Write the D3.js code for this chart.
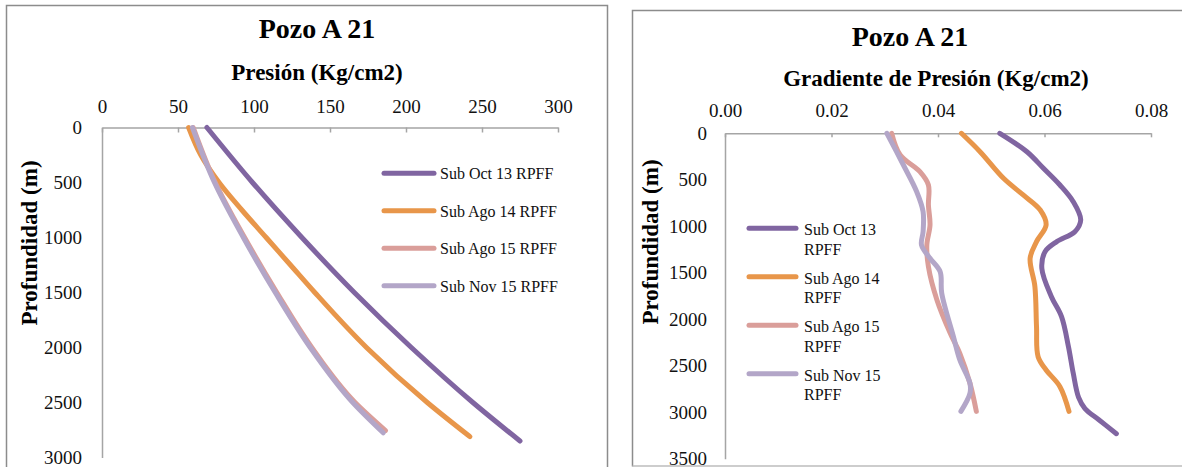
<!DOCTYPE html>
<html><head><meta charset="utf-8">
<script src="https://cdn.jsdelivr.net/npm/d3@7"></script>
<style>
html,body{margin:0;padding:0;background:#fff;}
svg{display:block;font-family:"Liberation Serif",serif;}
</style></head>
<body>
<svg id="chart" width="1182" height="467"></svg>
<script>
// ---------- DATA ----------
const seriesNames = ["Sub Oct 13 RPFF","Sub Ago 14 RPFF","Sub Ago 15 RPFF","Sub Nov 15 RPFF"];
const legendLines2 = [["Sub Oct 13","RPFF"],["Sub Ago 14","RPFF"],["Sub Ago 15","RPFF"],["Sub Nov 15","RPFF"]];
const colors = ["#8065A1","#E8964A","#DA9E9A","#B3A6C8"];

const pressureTicks = [0,50,100,150,200,250,300];
const depthTicksLeft = [0,500,1000,1500,2000,2500,3000];
const gradientTicks = [0,0.02,0.04,0.06,0.08];
const depthTicksRight = [0,500,1000,1500,2000,2500,3000,3500];

// Pressure (Kg/cm2) vs depth (m): [depth, pressure]
const presOct13 = [[0,69],[500,99],[1000,131.5],[1500,166],[2000,203.5],[2500,244],[2850,275]];
const presAgo14 = [[0,57],[250,65],[500,77],[750,92],[1000,108],[1250,124],[1500,140],[2000,174],[2500,214],[2810,242]];
const presAgo15 = [[0,60],[500,74.5],[1000,93.8],[1500,115],[2000,138],[2500,166.5],[2755,186.5]];
const presNov15 = [[0,59.5],[500,74],[1000,93],[1500,114],[2000,137],[2500,165],[2775,185]];

// Pressure gradient vs depth: [depth, gradient]
const gradOct13 = [[0,0.0516],[198,0.0567],[376,0.0598],[556,0.0629],[735,0.0654],[932,0.0668],[1058,0.0657],[1165,0.0623],[1273,0.0601],[1452,0.0595],[1757,0.0613],[1972,0.0632],[2295,0.0645],[2581,0.0654],[2840,0.0664],[2960,0.0676],[3080,0.0702],[3230,0.0735]];
const gradAgo14 = [[0,0.0444],[198,0.0479],[484,0.0523],[663,0.0560],[825,0.0592],[986,0.0603],[1165,0.0585],[1344,0.0573],[1649,0.0582],[2080,0.0585],[2402,0.0588],[2545,0.0603],[2724,0.0629],[2990,0.0646]];
const gradAgo15 = [[0,0.0313],[233,0.0329],[413,0.0366],[556,0.0382],[771,0.0382],[986,0.0385],[1201,0.0379],[1434,0.0382],[1792,0.0398],[2151,0.0423],[2366,0.0441],[2688,0.0460],[2990,0.0472]];
const gradNov15 = [[0,0.0304],[341,0.0335],[628,0.0360],[843,0.0372],[1058,0.0372],[1201,0.0369],[1344,0.0385],[1488,0.0404],[1720,0.0407],[2187,0.0429],[2437,0.0441],[2688,0.0460],[2796,0.0460],[2990,0.0443]];

const pressureSeries = [presOct13,presAgo14,presAgo15,presNov15];
const gradientSeries = [gradOct13,gradAgo14,gradAgo15,gradNov15];

// ---------- DRAW ----------
const svg = d3.select("#chart");
const axisColor = "#A5A5A5";
const font = "'Liberation Serif', serif";

function styleAxis(g){
  g.selectAll(".domain").attr("stroke",axisColor).attr("stroke-width",1.5);
  g.selectAll(".tick line").attr("stroke",axisColor).attr("stroke-width",1.5);
  g.selectAll("text").attr("font-family",font).attr("font-size",19).attr("fill","#111");
}

// ---- Left chart ----
svg.append("path").attr("d","M6.5,470V5.5H607.5V470").attr("fill","none").attr("stroke","#8c8c8c").attr("stroke-width",1.5);

const xL = d3.scaleLinear().domain([0,300]).range([102,558]);
const yL = d3.scaleLinear().domain([0,3000]).range([127.5,457.5]);

svg.append("g").attr("transform",`translate(0,${yL(0)})`)
  .call(d3.axisTop(xL).tickValues(pressureTicks).tickFormat(d3.format("d")).tickSizeInner(-5).tickSizeOuter(0).tickPadding(15))
  .call(styleAxis);
svg.append("g").attr("transform",`translate(${xL(0)},0)`)
  .call(d3.axisLeft(yL).tickValues(depthTicksLeft).tickFormat(d3.format("d")).tickSize(0).tickPadding(20))
  .call(styleAxis);

svg.append("text").attr("x",317).attr("y",38).attr("text-anchor","middle")
  .attr("font-family",font).attr("font-weight","bold").attr("font-size",28).text("Pozo A 21");
svg.append("text").attr("x",317).attr("y",80).attr("text-anchor","middle")
  .attr("font-family",font).attr("font-weight","bold").attr("font-size",23).text("Presión (Kg/cm2)");
svg.append("text").attr("transform","translate(37,243) rotate(-90)").attr("text-anchor","middle")
  .attr("font-family",font).attr("font-weight","bold").attr("font-size",23).text("Profundidad (m)");

const lineL = d3.line().x(d=>xL(d[1])).y(d=>yL(d[0])).curve(d3.curveMonotoneY);
const drawOrder = [0,1,2,3];
svg.append("g").selectAll("path").data(drawOrder.map(i=>({s:pressureSeries[i],c:colors[i]})))
  .join("path").attr("d",d=>lineL(d.s)).attr("fill","none").attr("stroke",d=>d.c)
  .attr("stroke-width",5).attr("stroke-linecap","round").attr("stroke-linejoin","round");

const legL = svg.append("g");
seriesNames.forEach((n,i)=>{
  const y = 173.3 + i*37.5;
  legL.append("line").attr("x1",384).attr("x2",434).attr("y1",y).attr("y2",y)
    .attr("stroke",colors[i]).attr("stroke-width",5).attr("stroke-linecap","round");
  legL.append("text").attr("x",440).attr("y",y+6).attr("font-family",font).attr("font-size",16)
    .attr("fill","#111").text(n);
});

// ---- Right chart ----
svg.append("path").attr("d","M632.5,466.5V10.5H1190").attr("fill","none").attr("stroke","#8c8c8c").attr("stroke-width",1.5);
svg.append("path").attr("d","M632.5,466H1190").attr("fill","none").attr("stroke","#bdbdbd").attr("stroke-width",1.5);

const xR = d3.scaleLinear().domain([0,0.08]).range([725,1151]);
const yR = d3.scaleLinear().domain([0,3500]).range([133.3,458.8]);

svg.append("g").attr("transform",`translate(0,${yR(0)})`)
  .call(d3.axisTop(xR).tickValues(gradientTicks).tickFormat(d3.format(".2f")).tickSizeInner(-4).tickSizeOuter(0).tickPadding(16))
  .call(styleAxis);
svg.append("g").attr("transform",`translate(${xR(0)},0)`)
  .call(d3.axisLeft(yR).tickValues(depthTicksRight).tickFormat(d3.format("d")).tickSize(0).tickPadding(18))
  .call(styleAxis);

svg.append("text").attr("x",910).attr("y",46).attr("text-anchor","middle")
  .attr("font-family",font).attr("font-weight","bold").attr("font-size",28).text("Pozo A 21");
svg.append("text").attr("x",936).attr("y",86).attr("text-anchor","middle")
  .attr("font-family",font).attr("font-weight","bold").attr("font-size",23).text("Gradiente de Presión (Kg/cm2)");
svg.append("text").attr("transform","translate(658,242) rotate(-90)").attr("text-anchor","middle")
  .attr("font-family",font).attr("font-weight","bold").attr("font-size",23).text("Profundidad (m)");

const lineR = d3.line().x(d=>xR(d[1])).y(d=>yR(d[0])).curve(d3.curveCatmullRom.alpha(0.5));
svg.append("g").selectAll("path").data([0,1,2,3].map(i=>({s:gradientSeries[i],c:colors[i]})))
  .join("path").attr("d",d=>lineR(d.s)).attr("fill","none").attr("stroke",d=>d.c)
  .attr("stroke-width",5).attr("stroke-linecap","round").attr("stroke-linejoin","round");

const legR = svg.append("g");
legendLines2.forEach((ls,i)=>{
  const y = 228.3 + i*48.5;
  legR.append("line").attr("x1",749).attr("x2",796).attr("y1",y).attr("y2",y)
    .attr("stroke",colors[i]).attr("stroke-width",5).attr("stroke-linecap","round");
  const t = legR.append("text").attr("x",804).attr("y",y+7).attr("font-family",font).attr("font-size",16).attr("fill","#111");
  t.append("tspan").attr("x",804).text(ls[0]);
  t.append("tspan").attr("x",804).attr("dy",19.5).text(ls[1]);
});
</script>
</body></html>
